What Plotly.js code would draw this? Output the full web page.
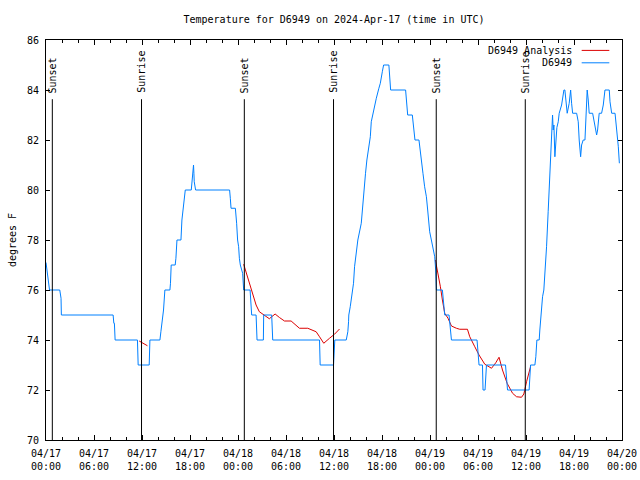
<!DOCTYPE html>
<html>
<head>
<meta charset="utf-8">
<script src="https://cdn.plot.ly/plotly-3.0.1.min.js"></script>
<style>html,body{margin:0;padding:0;background:#fff;}#chart{width:640px;height:480px;}</style>
</head>
<body>
<div id="chart"></div>
<script>
// Hours since 2024-04-17 00:00 UTC
const obsHours = [0.00,0.16,0.29,0.44,1.72,1.79,1.88,1.92,8.39,8.48,8.55,8.64,11.43,11.52,12.90,12.99,14.24,14.36,14.56,14.69,14.86,15.49,15.56,15.65,16.15,16.24,16.37,16.87,16.99,17.12,17.28,17.41,18.16,18.25,18.32,18.44,18.49,18.53,18.70,22.95,23.04,23.13,23.67,23.75,23.83,23.95,24.08,24.17,24.29,24.58,24.71,25.51,25.63,25.71,26.26,26.38,27.17,27.21,28.21,28.34,34.19,34.27,35.94,36.10,37.53,37.73,37.82,37.85,38.03,38.15,38.28,38.44,38.57,38.69,38.86,38.98,39.41,39.53,39.69,39.82,39.94,40.11,40.36,40.54,40.66,40.86,41.29,41.61,41.79,42.04,42.20,42.86,42.95,43.08,44.95,45.04,45.21,45.79,45.87,46.12,46.62,46.71,46.83,46.96,47.12,47.33,47.55,47.71,47.83,47.96,48.17,48.37,48.59,48.71,48.80,49.55,49.71,49.84,50.38,50.46,50.68,53.88,54.01,54.13,54.56,54.63,54.88,55.06,57.44,57.56,57.69,60.39,60.57,61.11,61.23,61.36,61.65,61.73,61.94,62.07,62.23,62.40,62.57,62.77,62.90,63.07,63.20,63.32,63.40,63.49,63.61,63.74,63.86,64.03,64.15,64.45,64.58,64.74,64.86,64.99,65.15,65.40,65.58,65.70,65.83,66.33,66.53,66.65,66.83,66.95,67.15,67.37,67.49,67.65,67.78,67.90,68.33,68.49,68.65,68.83,68.95,69.15,69.45,69.66,69.87,70.41,70.50,70.71,71.13,71.25,71.42,71.54,71.67];
const obsTemp = [77.1,76.7,76.3,76.0,76.0,75.67,75.67,75.0,75.0,74.67,74.67,74.0,74.0,73.0,73.0,74.0,74.0,74.33,74.8,75.2,76.0,76.0,76.27,77.0,77.0,77.27,78.0,78.0,78.8,79.2,79.73,80.0,80.0,80.33,80.67,81.0,80.67,80.33,80.0,80.0,79.67,79.27,79.27,79.0,78.67,78.0,77.73,77.27,77.0,76.67,76.0,76.0,75.5,75.0,75.0,74.0,74.0,75.0,75.0,74.0,74.0,73.0,73.0,74.0,74.0,74.33,74.73,75.0,75.33,75.67,76.0,76.27,76.93,77.33,77.67,78.0,78.67,79.2,79.87,80.13,80.67,81.2,81.73,82.13,82.73,83.07,83.67,84.07,84.27,84.73,85.0,85.0,84.6,84.0,84.0,83.6,83.0,83.0,82.73,82.0,82.0,81.73,81.33,81.0,80.67,80.13,79.73,79.2,78.67,78.33,78.0,77.6,77.33,76.8,76.0,76.0,75.53,75.0,75.0,74.67,74.0,74.0,73.6,73.0,73.0,72.0,72.0,73.0,73.0,72.33,72.0,72.0,73.0,73.0,73.33,74.0,74.0,74.4,75.27,75.73,76.0,76.73,77.73,79.13,80.07,80.73,82.13,83.0,82.4,82.6,81.33,82.07,82.5,82.73,83.07,83.4,83.73,84.0,84.0,83.47,83.07,83.47,84.0,83.47,83.07,83.07,82.73,82.0,81.33,81.8,82.0,82.0,83.07,84.0,83.6,83.07,83.07,82.8,82.53,82.2,82.4,83.07,83.07,83.4,84.0,84.0,83.53,83.07,83.07,82.73,82.33,81.73,81.07];

// Analysis series (null = gap between runs)
const anaHours = [11.65,12.68,null,24.71,25.21,25.63,26.26,26.67,27.30,27.71,27.92,28.17,28.64,29.18,29.81,30.64,31.27,31.68,32.72,33.77,34.19,34.72,35.44,36.06,36.69,null,48.67,49.00,49.30,49.55,49.84,50.25,50.68,51.30,51.72,52.68,52.97,53.60,54.13,54.85,55.35,55.69,56.22,56.63,57.06,57.64,58.32,58.82,59.44,59.73,60.07,60.27,60.57];
const anaTemp = [73.96,73.77,null,77.03,76.47,76.0,75.4,75.13,75.0,74.9,74.85,74.92,75.04,74.9,74.76,74.76,74.6,74.47,74.47,74.33,74.13,73.87,74.07,74.23,74.44,null,77.2,76.67,76.13,75.6,75.07,74.87,74.56,74.47,74.43,74.43,74.13,73.73,73.4,73.03,72.93,72.87,73.09,73.31,72.8,72.27,71.87,71.73,71.71,71.84,72.33,72.6,72.93];

const sunHours = [0.79, 11.94, 24.79, 35.94, 48.78, 59.91];
const sunLabels = ['Sunset','Sunrise','Sunset','Sunrise','Sunset','Sunrise'];

const BASE = Date.UTC(2024, 3, 17, 0, 0, 0);
function toDate(h) {
  if (h === null) return null;
  return new Date(BASE + h * 3600000).toISOString().slice(0, 19).replace('T', ' ');
}

const FONT = 'DejaVu Sans Mono, monospace';
const BLUE = 'rgb(0,128,255)';
const RED = 'rgb(220,0,0)';

const traces = [
  {x: anaHours.map(toDate), y: anaTemp, type: 'scatter', mode: 'lines', name: 'D6949 Analysis',
   line: {color: RED, width: 1}, connectgaps: false, showlegend: false},
  {x: obsHours.map(toDate), y: obsTemp, type: 'scatter', mode: 'lines', name: 'D6949',
   line: {color: BLUE, width: 1}, showlegend: false}
];

const shapes = sunHours.map(h => ({
  type: 'line', xref: 'x', yref: 'paper', x0: toDate(h), x1: toDate(h), y0: 0, y1: 0.852,
  line: {color: 'black', width: 1}
}));
shapes.push({type: 'line', xref: 'paper', yref: 'paper', x0: 0.930, x1: 0.978, y0: 0.974, y1: 0.974, line: {color: RED, width: 1}});
shapes.push({type: 'line', xref: 'paper', yref: 'paper', x0: 0.930, x1: 0.978, y0: 0.943, y1: 0.943, line: {color: BLUE, width: 1}});

const annotations = sunHours.map((h, i) => ({
  x: toDate(h), xref: 'x', y: 0.862, yref: 'paper', text: sunLabels[i], textangle: -90,
  showarrow: false, xanchor: 'center', yanchor: 'bottom', font: {family: FONT, size: 10, color: 'black'}
}));
annotations.push({x: 0.916, xref: 'paper', y: 0.974, yref: 'paper', text: 'D6949 Analysis', showarrow: false,
  xanchor: 'right', yanchor: 'middle', font: {family: FONT, size: 10, color: 'black'}});
annotations.push({x: 0.916, xref: 'paper', y: 0.943, yref: 'paper', text: 'D6949', showarrow: false,
  xanchor: 'right', yanchor: 'middle', font: {family: FONT, size: 10, color: 'black'}});

const layout = {
  width: 640, height: 480,
  margin: {l: 46, r: 18, t: 40, b: 40, pad: 0},
  paper_bgcolor: 'white', plot_bgcolor: 'white',
  font: {family: FONT, size: 10, color: 'black'},
  title: {text: 'Temperature for D6949 on 2024-Apr-17 (time in UTC)', font: {family: FONT, size: 10, color: 'black'},
          x: 0.5, xref: 'paper', xanchor: 'center', y: 0.96, yref: 'container', yanchor: 'middle'},
  xaxis: {
    type: 'date', range: ['2024-04-17 00:00:00', '2024-04-20 00:00:00'],
    tick0: '2024-04-17 00:00:00', dtick: 6 * 3600000, tickformat: '%m/%d<br>%H:%M',
    ticks: 'inside', ticklen: 5, tickcolor: 'black', tickwidth: 1, ticklabelstandoff: 4,
    showline: true, linecolor: 'black', linewidth: 1, mirror: 'ticks',
    showgrid: false, zeroline: false,
    minor: {dtick: 2 * 3600000, tick0: '2024-04-17 00:00:00', ticks: 'inside', ticklen: 3, tickcolor: 'black', showgrid: false},
    tickfont: {family: FONT, size: 10, color: 'black'}
  },
  yaxis: {
    range: [70, 86], dtick: 2, tick0: 70,
    ticks: 'inside', ticklen: 4, tickcolor: 'black', tickwidth: 1, ticklabelstandoff: 4,
    showline: true, linecolor: 'black', linewidth: 1, mirror: 'ticks',
    showgrid: false, zeroline: false,
    title: {text: 'degrees F', font: {family: FONT, size: 10, color: 'black'}, standoff: 8},
    tickfont: {family: FONT, size: 10, color: 'black'}
  },
  shapes: shapes,
  annotations: annotations,
  showlegend: false
};

Plotly.newPlot('chart', traces, layout, {displayModeBar: false, staticPlot: true});
</script>
</body>
</html>
